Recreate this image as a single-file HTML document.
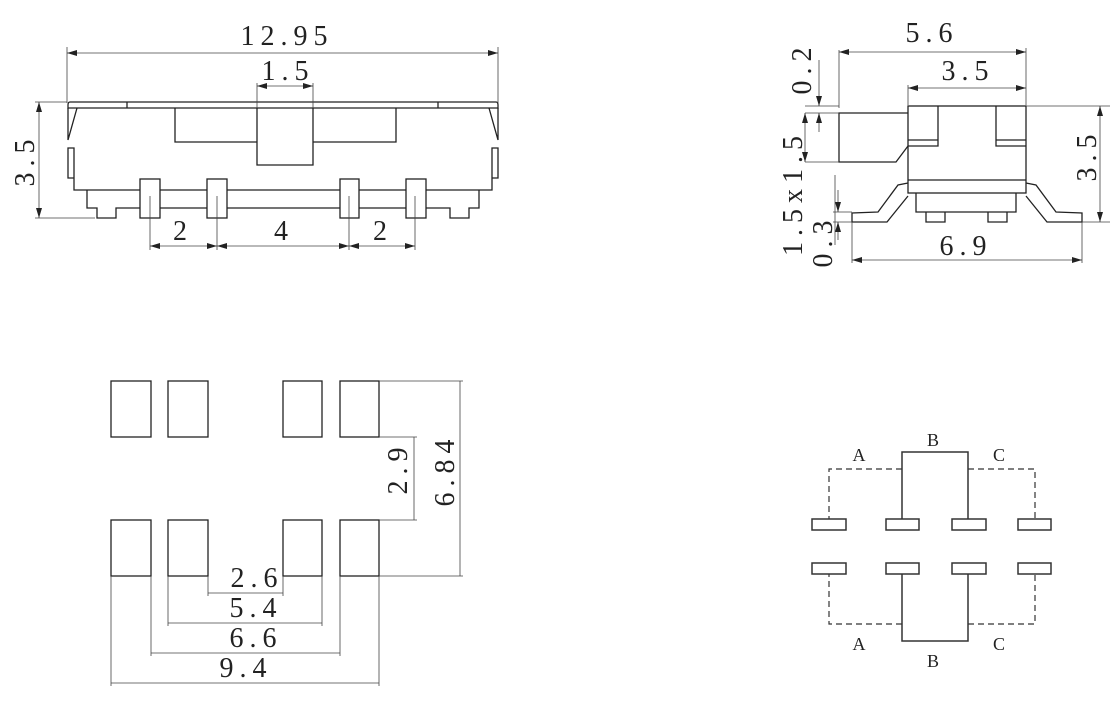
<!DOCTYPE html>
<html><head><meta charset="utf-8"><style>
html,body{margin:0;padding:0;background:#fff;}
svg{display:block;}
.t{font-size:28px;letter-spacing:6px;}
</style></head><body>
<svg width="1120" height="722" viewBox="0 0 1120 722" xmlns="http://www.w3.org/2000/svg" font-family="'Liberation Serif', 'Noto Serif CJK SC', serif" fill="#222">
<defs>
<marker id="a" viewBox="0 0 10 6" refX="10" refY="3" markerWidth="10" markerHeight="6" orient="auto-start-reverse" markerUnits="userSpaceOnUse"><path d="M0,0L10,3L0,6z" fill="#222"/></marker>
</defs>
<g stroke="#222" fill="none" stroke-width="1.3">
<!-- TOP LEFT -->
<path d="M70,102H496Q498,102 498,105V108H68V105Q68,102 70,102M127,102V108M438,102V108"/>
<path d="M68,108V140L77,108M498,108V140L489,108"/>
<path d="M74,148V190H492V148M68,148H74V178H68ZM498,148H492V178H498Z"/>
<path d="M175,108V142H257M313,142H396V108M257,108V165H313V108"/>
<path d="M87,190V208H97V218H116V208H450V218H469V208H479V190"/>
<rect x="140" y="179" width="20" height="39" fill="#fff"/><rect x="207" y="179" width="20" height="39" fill="#fff"/>
<rect x="340" y="179" width="19" height="39" fill="#fff"/><rect x="406" y="179" width="20" height="39" fill="#fff"/>
</g>
<g stroke="#444" fill="none" stroke-width="0.8">
<path d="M67,47V103M498,47V103M257,83V108M313,83V108M35,102H67M35,218H95M150,196V250M217,196V250M349,196V250M415,196V250"/>
<line x1="67" y1="53" x2="498" y2="53" marker-start="url(#a)" marker-end="url(#a)"/>
<line x1="257" y1="86" x2="313" y2="86" marker-start="url(#a)" marker-end="url(#a)"/>
<line x1="39" y1="102" x2="39" y2="218" marker-start="url(#a)" marker-end="url(#a)"/>
<line x1="150" y1="246" x2="217" y2="246" marker-start="url(#a)" marker-end="url(#a)"/>
<line x1="217" y1="246" x2="349" y2="246" marker-start="url(#a)" marker-end="url(#a)"/>
<line x1="349" y1="246" x2="415" y2="246" marker-start="url(#a)" marker-end="url(#a)"/>
</g>
<text class="t" x="287" y="45" text-anchor="middle">12.95</text>
<text class="t" x="288" y="80" text-anchor="middle">1.5</text>
<text class="t" x="183" y="240" text-anchor="middle">2</text>
<text class="t" x="284" y="240" text-anchor="middle">4</text>
<text class="t" x="383" y="240" text-anchor="middle">2</text>
<text class="t" transform="translate(34,160) rotate(-90)" text-anchor="middle">3.5</text>

<!-- TOP RIGHT -->
<g stroke="#222" fill="none" stroke-width="1.3">
<rect x="908" y="106" width="118" height="87"/>
<path d="M938,106V146H908M908,140H938M996,106V146H1026M996,140H1026M908,180H1026"/>
<path d="M908,113H839V162H896L908,146"/>
<path d="M916,193V212H1016V193M926,212V222H945V212M988,212V222H1007V212"/>
<path d="M908,183L898,185L878,212L852,213V222H887L908,196"/>
<path d="M1026,183L1036,185L1056,212L1082,213V222H1047L1026,196"/>
</g>
<g stroke="#444" fill="none" stroke-width="0.8">
<path d="M839,50V108M1026,48V105M908,85V105M1026,106H1110M1082,222H1110M852,222V263M1082,222V263M805,106H839M805,113H839M805,162H839M835,175V245M833,212H852M833,222H852"/>
<line x1="839" y1="52" x2="1026" y2="52" marker-start="url(#a)" marker-end="url(#a)"/>
<line x1="908" y1="88" x2="1026" y2="88" marker-start="url(#a)" marker-end="url(#a)"/>
<line x1="1100" y1="106" x2="1100" y2="222" marker-start="url(#a)" marker-end="url(#a)"/>
<line x1="852" y1="260" x2="1082" y2="260" marker-start="url(#a)" marker-end="url(#a)"/>
<line x1="819" y1="60" x2="819" y2="106" marker-end="url(#a)"/>
<line x1="819" y1="132" x2="819" y2="113" marker-end="url(#a)"/>
<line x1="805" y1="113" x2="805" y2="162" marker-start="url(#a)" marker-end="url(#a)"/>
<line x1="838" y1="190" x2="838" y2="212" marker-end="url(#a)"/>
<line x1="838" y1="240" x2="838" y2="222" marker-end="url(#a)"/>
</g>
<text class="t" x="932" y="42" text-anchor="middle">5.6</text>
<text class="t" x="968" y="80" text-anchor="middle">3.5</text>
<text class="t" x="966" y="255" text-anchor="middle">6.9</text>
<text class="t" transform="translate(1096,155) rotate(-90)" text-anchor="middle">3.5</text>
<text class="t" transform="translate(811,68) rotate(-90)" text-anchor="middle">0.2</text>
<text class="t" transform="translate(802,193) rotate(-90)" text-anchor="middle">1.5x1.5</text>
<text class="t" transform="translate(832,241) rotate(-90)" text-anchor="middle">0.3</text>

<!-- BOTTOM LEFT -->
<g stroke="#222" fill="none" stroke-width="1.3">
<rect x="111" y="381" width="40" height="56"/><rect x="168" y="381" width="40" height="56"/>
<rect x="283" y="381" width="39" height="56"/><rect x="340" y="381" width="39" height="56"/>
<rect x="111" y="520" width="40" height="56"/><rect x="168" y="520" width="40" height="56"/>
<rect x="283" y="520" width="39" height="56"/><rect x="340" y="520" width="39" height="56"/>
</g>
<g stroke="#444" fill="none" stroke-width="0.8">
<path d="M379,381H463M379,437H417M379,520H417M379,576H463M208,576V596M283,576V596M168,576V626M322,576V626M151,576V656M340,576V656M111,576V686M379,576V686"/>
<line x1="414" y1="437" x2="414" y2="520"/>
<line x1="460" y1="381" x2="460" y2="576"/>
<line x1="208" y1="593" x2="283" y2="593"/>
<line x1="168" y1="623" x2="322" y2="623"/>
<line x1="151" y1="653" x2="340" y2="653"/>
<line x1="111" y1="683" x2="379" y2="683"/>
</g>
<text class="t" x="257" y="587" text-anchor="middle">2.6</text>
<text class="t" x="256" y="617" text-anchor="middle">5.4</text>
<text class="t" x="256" y="647" text-anchor="middle">6.6</text>
<text class="t" x="246" y="677" text-anchor="middle">9.4</text>
<text class="t" transform="translate(407,468) rotate(-90)" text-anchor="middle">2.9</text>
<text class="t" transform="translate(454,470) rotate(-90)" text-anchor="middle">6.84</text>

<!-- BOTTOM RIGHT -->
<g stroke="#333" fill="none" stroke-width="1.5">
<path d="M902,519V452H968V519M902,574V641H968V574"/>
<path d="M902,469H829V519M968,469H1035V519M902,624H829V574M968,624H1035V574" stroke-dasharray="6,4" stroke-width="1.2"/>
<g fill="#fff">
<rect x="812" y="519" width="34" height="11"/><rect x="886" y="519" width="33" height="11"/>
<rect x="952" y="519" width="34" height="11"/><rect x="1018" y="519" width="33" height="11"/>
<rect x="812" y="563" width="34" height="11"/><rect x="886" y="563" width="33" height="11"/>
<rect x="952" y="563" width="34" height="11"/><rect x="1018" y="563" width="33" height="11"/>
</g>
</g>
<g font-size="18" text-anchor="middle">
<text x="933" y="446">B</text><text x="859" y="461">A</text><text x="999" y="461">C</text>
<text x="859" y="650">A</text><text x="933" y="667">B</text><text x="999" y="650">C</text>
</g>
</svg>
</body></html>
